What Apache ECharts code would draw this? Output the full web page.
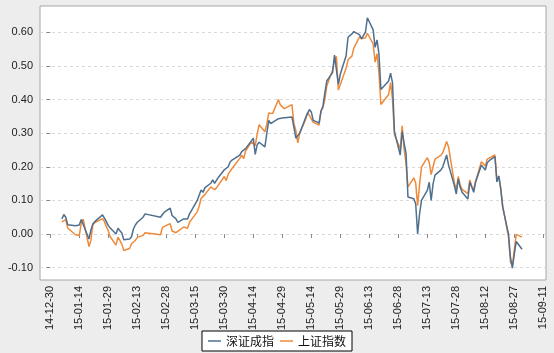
<!DOCTYPE html>
<html>
<head>
<meta charset="utf-8">
<script src="https://cdn.jsdelivr.net/npm/echarts@6/dist/echarts.min.js"></script>
<style>
html,body{margin:0;padding:0;background:#ededed;}
#chart{width:554px;height:353px;}
</style>
</head>
<body>
<div id="chart"></div>
<script>
// trading days (2015)
const dates = [
'2015-01-05','2015-01-06','2015-01-07','2015-01-08','2015-01-09','2015-01-12','2015-01-13','2015-01-14','2015-01-15','2015-01-16',
'2015-01-19','2015-01-20','2015-01-21','2015-01-22','2015-01-23','2015-01-26','2015-01-27','2015-01-28','2015-01-29','2015-01-30',
'2015-02-02','2015-02-03','2015-02-04','2015-02-05','2015-02-06','2015-02-09','2015-02-10','2015-02-11','2015-02-12','2015-02-13',
'2015-02-16','2015-02-17','2015-02-25','2015-02-26','2015-02-27','2015-03-02','2015-03-03','2015-03-04','2015-03-05','2015-03-06',
'2015-03-09','2015-03-10','2015-03-11','2015-03-12','2015-03-13','2015-03-16','2015-03-17','2015-03-18','2015-03-19','2015-03-20',
'2015-03-23','2015-03-24','2015-03-25','2015-03-26','2015-03-27','2015-03-30','2015-03-31','2015-04-01','2015-04-02','2015-04-03',
'2015-04-07','2015-04-08','2015-04-09','2015-04-10','2015-04-13','2015-04-14','2015-04-15','2015-04-16','2015-04-17','2015-04-20',
'2015-04-21','2015-04-22','2015-04-23','2015-04-24','2015-04-27','2015-04-28','2015-04-29','2015-04-30','2015-05-04','2015-05-05',
'2015-05-06','2015-05-07','2015-05-08','2015-05-11','2015-05-12','2015-05-13','2015-05-14','2015-05-15','2015-05-18','2015-05-19',
'2015-05-20','2015-05-21','2015-05-22','2015-05-25','2015-05-26','2015-05-27','2015-05-28','2015-05-29','2015-06-01','2015-06-02',
'2015-06-03','2015-06-04','2015-06-05','2015-06-08','2015-06-09','2015-06-10','2015-06-11','2015-06-12','2015-06-15','2015-06-16',
'2015-06-17','2015-06-18','2015-06-19','2015-06-23','2015-06-24','2015-06-25','2015-06-26','2015-06-29','2015-06-30','2015-07-01',
'2015-07-02','2015-07-03','2015-07-06','2015-07-07','2015-07-08','2015-07-09','2015-07-10','2015-07-13','2015-07-14','2015-07-15',
'2015-07-16','2015-07-17','2015-07-20','2015-07-21','2015-07-22','2015-07-23','2015-07-24','2015-07-27','2015-07-28','2015-07-29',
'2015-07-30','2015-07-31','2015-08-03','2015-08-04','2015-08-05','2015-08-06','2015-08-07','2015-08-10','2015-08-11','2015-08-12',
'2015-08-13','2015-08-14','2015-08-17','2015-08-18','2015-08-19','2015-08-20','2015-08-21','2015-08-24','2015-08-25','2015-08-26',
'2015-08-27','2015-08-28','2015-08-31'
];

// 深证成指 cumulative return
const szValues = [
0.045,0.058,0.050,0.028,0.025,0.025,0.022,0.027,0.043,0.045,
-0.015,0.012,0.030,0.037,0.035,0.057,0.047,0.037,0.025,0.018,
0.000,0.017,0.010,0.003,-0.017,-0.015,-0.008,0.015,0.027,0.035,
0.050,0.060,0.050,0.058,0.065,0.077,0.055,0.060,0.045,0.035,
0.045,0.040,0.045,0.060,0.070,0.100,0.105,0.131,0.124,0.138,
0.151,0.161,0.151,0.155,0.169,0.191,0.190,0.200,0.214,0.220,
0.235,0.245,0.240,0.254,0.277,0.285,0.237,0.265,0.273,0.259,
0.300,0.338,0.328,0.325,0.343,0.338,0.345,0.345,0.348,0.318,
0.285,0.280,0.300,0.345,0.358,0.370,0.363,0.338,0.330,0.365,
0.380,0.420,0.455,0.480,0.532,0.537,0.445,0.475,0.530,0.585,
0.590,0.595,0.602,0.592,0.580,0.582,0.600,0.643,0.607,0.555,
0.577,0.535,0.430,0.455,0.478,0.450,0.305,0.235,0.305,0.270,
0.240,0.110,0.105,0.090,0.000,0.060,0.100,0.130,0.154,0.100,
0.150,0.175,0.190,0.200,0.205,0.235,0.205,0.144,0.119,0.164,
0.140,0.124,0.104,0.155,0.140,0.124,0.155,0.205,0.210,0.190,
0.212,0.218,0.230,0.155,0.172,0.135,0.080,0.000,-0.068,-0.101,
-0.060,-0.022,-0.045
];

// 上证指数 cumulative return
const shValues = [
0.036,0.036,0.043,0.018,0.016,-0.002,0.000,-0.004,0.032,0.044,
-0.037,-0.019,0.028,0.034,0.036,0.046,0.037,0.022,0.009,-0.008,
-0.033,-0.009,-0.019,-0.030,-0.049,-0.043,-0.029,-0.024,-0.019,-0.010,
-0.004,0.004,-0.002,0.020,0.023,0.031,0.009,0.014,0.004,0.002,
0.021,0.016,0.017,0.035,0.043,0.066,0.083,0.106,0.108,0.118,
0.140,0.141,0.132,0.138,0.141,0.171,0.159,0.178,0.183,0.195,
0.225,0.235,0.224,0.247,0.274,0.279,0.263,0.297,0.325,0.304,
0.327,0.360,0.365,0.358,0.400,0.384,0.384,0.373,0.385,0.329,
0.308,0.271,0.300,0.340,0.361,0.353,0.354,0.332,0.324,0.366,
0.375,0.400,0.440,0.488,0.518,0.528,0.428,0.426,0.493,0.518,
0.518,0.529,0.553,0.587,0.581,0.579,0.583,0.597,0.565,0.511,
0.536,0.479,0.385,0.415,0.450,0.400,0.296,0.253,0.322,0.253,
0.210,0.140,0.167,0.152,0.084,0.147,0.199,0.227,0.213,0.177,
0.182,0.223,0.234,0.242,0.245,0.275,0.259,0.152,0.132,0.171,
0.146,0.133,0.120,0.161,0.142,0.132,0.158,0.215,0.214,0.202,
0.223,0.226,0.235,0.159,0.173,0.133,0.084,-0.008,-0.083,-0.095,
-0.047,-0.001,-0.009
];

const seriesNames = ['深证成指','上证指数'];
const tickLabels = ['14-12-30','15-01-14','15-01-29','15-02-13','15-02-28','15-03-15','15-03-30','15-04-14','15-04-29','15-05-14','15-05-29','15-06-13','15-06-28','15-07-13','15-07-28','15-08-12','15-08-27','15-09-11'];
const yTicks = [-0.10,0.00,0.10,0.20,0.30,0.40,0.50,0.60];

const DAY = 86400000;
function parseDate(s){ const p = s.split('-').map(Number); return Date.UTC(p[0],p[1]-1,p[2]); }
const origin = parseDate('20' + tickLabels[0]);
const toDay = s => (parseDate(s) - origin) / DAY;
const xTickVals = tickLabels.map(t => toDay('20' + t));
const labelOf = {};
tickLabels.forEach((t,i) => { labelOf[xTickVals[i]] = t; });

const szData = dates.map((d,i) => [toDay(d), szValues[i]]);
const shData = dates.map((d,i) => [toDay(d), shValues[i]]);

const chart = echarts.init(document.getElementById('chart'), null, {renderer:'canvas'});
chart.setOption({
  backgroundColor: '#ededed',
  animation: false,
  grid: {left: 40, top: 6, right: 8, bottom: 73, show: true, backgroundColor: '#ffffff', borderColor: '#a6a6a6', borderWidth: 1},
  legend: {
    left: 'center', top: 331,
    data: seriesNames,
    icon: 'rect',
    itemWidth: 13, itemHeight: 1.5, itemGap: 6,
    padding: [3, 6],
    borderColor: '#000', borderWidth: 1, backgroundColor: '#fff', borderRadius: 0,
    textStyle: {fontFamily: 'Noto Sans CJK SC', fontSize: 12, color: '#111', lineHeight: 14}
  },
  xAxis: {
    type: 'value',
    min: -5.33, max: 256.4,
    axisLine: {show: false},
    axisTick: {show: true, length: 4, lineStyle: {color: '#888'}, customValues: xTickVals},
    axisLabel: {
      customValues: xTickVals, rotate: 90, margin: 6,
      fontFamily: 'Liberation Sans, Arial', fontSize: 11, color: '#222',
      formatter: v => labelOf[Math.round(v)] || ''
    },
    splitLine: {show: false}
  },
  yAxis: {
    type: 'value',
    min: -0.1366, max: 0.678,
    axisLine: {show: false},
    axisTick: {show: true, length: 4, lineStyle: {color: '#888'}, customValues: yTicks},
    axisLabel: {
      customValues: yTicks, margin: 7,
      fontFamily: 'Liberation Sans, Arial', fontSize: 11, color: '#222',
      formatter: v => v.toFixed(2)
    },
    splitLine: {show: true, lineStyle: {color: '#d9d9d9', type: [3, 3], width: 1}}
  },
  series: [
    {name: seriesNames[0], type: 'line', data: szData, showSymbol: false, symbol: 'none',
     lineStyle: {color: '#4f6f8f', width: 1.5}, itemStyle: {color: '#4f6f8f'}, z: 3},
    {name: seriesNames[1], type: 'line', data: shData, showSymbol: false, symbol: 'none',
     lineStyle: {color: '#ef8a3a', width: 1.5}, itemStyle: {color: '#ef8a3a'}, z: 2}
  ]
});
</script>
</body>
</html>
